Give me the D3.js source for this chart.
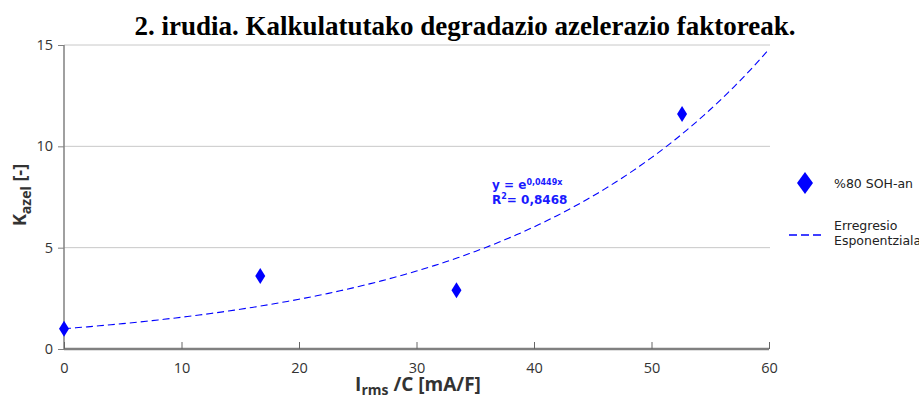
<!DOCTYPE html>
<html>
<head>
<meta charset="utf-8">
<script src="https://cdn.jsdelivr.net/npm/d3@7"></script>
<style>
  body { margin: 0; background: #fff; overflow: hidden; }
  svg { display: block; }
</style>
</head>
<body>
<svg id="chart" width="919" height="401"></svg>
<script>
// data
const xValues = [0, 16.7, 33.4, 52.6];
const yValues = [1.0, 3.6, 2.9, 11.6];
const xTicks = [0, 10, 20, 30, 40, 50, 60];
const yTicks = [0, 5, 10, 15];
const fitCoef = 0.0449;
const fitX = d3.range(0, 60.01, 0.5);

const margin = { top: 45, right: 150, bottom: 52, left: 64 },
  width = 919,
  height = 401,
  innerWidth = 769 - margin.left,
  innerHeight = 349 - margin.top;

const svg = d3.select("#chart");

svg.append("text")
  .attr("x", 465).attr("y", 35)
  .attr("text-anchor", "middle")
  .style("font-family", "'Liberation Serif', 'Times New Roman', serif")
  .style("font-weight", "bold")
  .style("font-size", "27px")
  .text("2. irudia. Kalkulatutako degradazio azelerazio faktoreak.");

const g = svg.append("g").attr("transform", `translate(${margin.left},${margin.top})`);

const x_Scale = d3.scaleLinear().domain([0, 60]).range([0, innerWidth]);
const y_Scale = d3.scaleLinear().domain([0, 15]).range([innerHeight, 0]);

// grid lines
g.selectAll(".grid").data(yTicks.filter(d => d > 0)).join("line")
  .attr("class", "grid")
  .attr("x1", 0).attr("x2", innerWidth + 1)
  .attr("y1", d => y_Scale(d)).attr("y2", d => y_Scale(d))
  .attr("stroke", "#c8c8c8").attr("stroke-width", 1);

// y axis
const yAxis = g.append("g")
  .call(d3.axisLeft(y_Scale).tickValues(yTicks).tickSize(6).tickPadding(5));
yAxis.select(".domain").attr("stroke", "#808080").attr("stroke-width", 1.5).attr("d", `M0,${innerHeight}V0`);
yAxis.selectAll(".tick line").attr("stroke", "#808080");
yAxis.selectAll(".tick text")
  .style("font-family", "'Open Sans', sans-serif").style("font-size", "14.5px").attr("fill", "#333");

// x axis
const xAxis = g.append("g")
  .attr("transform", `translate(0,${innerHeight})`)
  .call(d3.axisBottom(x_Scale).tickValues(xTicks).tickSize(-7).tickPadding(14));
xAxis.select(".domain").attr("stroke", "#808080").attr("stroke-width", 2.5).attr("d", `M0,0H${innerWidth}`);
xAxis.selectAll(".tick line").attr("stroke", "#666");
xAxis.selectAll(".tick text")
  .style("font-family", "'Open Sans', sans-serif").style("font-size", "14.5px").attr("fill", "#333");

// exponential fit
const line = d3.line()
  .x(d => x_Scale(d))
  .y(d => y_Scale(Math.exp(fitCoef * d)));
g.append("path")
  .datum(fitX)
  .attr("d", line)
  .attr("fill", "none")
  .attr("stroke", "#0000ff")
  .attr("stroke-width", 1.1)
  .attr("stroke-dasharray", "7,4");

// diamonds
const diamond = "M0,-8L5,0L0,8L-5,0Z";
g.selectAll(".pt").data(xValues).join("path")
  .attr("class", "pt")
  .attr("d", diamond)
  .attr("transform", (d, i) => `translate(${x_Scale(d)},${y_Scale(yValues[i])})`)
  .attr("fill", "#0000ff");

// equation
const eq = svg.append("text")
  .attr("x", 492).attr("y", 189)
  .style("font-family", "'DejaVu Sans', Verdana, sans-serif")
  .style("font-weight", "bold").style("font-size", "12px")
  .attr("fill", "#1a1aff");
eq.append("tspan").text("y = e");
eq.append("tspan").attr("dy", -4).style("font-size", "8px").text("0,0449x");
const r2 = svg.append("text")
  .attr("x", 492).attr("y", 204)
  .style("font-family", "'DejaVu Sans', Verdana, sans-serif")
  .style("font-weight", "bold").style("font-size", "12px")
  .attr("fill", "#1a1aff");
r2.append("tspan").text("R");
r2.append("tspan").attr("dy", -5).style("font-size", "8px").text("2");
r2.append("tspan").attr("dy", 5).text("= 0,8468");

// axis titles
const yl = svg.append("text")
  .attr("transform", "translate(26,195) rotate(-90)")
  .attr("text-anchor", "middle")
  .style("font-family", "'Open Sans', sans-serif")
  .style("font-weight", "bold").style("font-size", "18px")
  .attr("fill", "#333");
yl.append("tspan").text("K");
yl.append("tspan").attr("dy", 5).style("font-size", "14px").text("azel");
yl.append("tspan").attr("dy", -5).text(" [-]");

const xl = svg.append("text")
  .attr("x", 418).attr("y", 391)
  .attr("text-anchor", "middle")
  .style("font-family", "'Open Sans', sans-serif")
  .style("font-weight", "bold").style("font-size", "19px")
  .attr("fill", "#333");
xl.append("tspan").text("I");
xl.append("tspan").attr("dy", 4).style("font-size", "14px").text("rms");
xl.append("tspan").attr("dy", -4).text(" /C [mA/F]");

// legend
const legend = svg.append("g");
legend.append("path").attr("d", "M0,-11L8,0L0,11L-8,0Z")
  .attr("transform", "translate(805,183)").attr("fill", "#0000ff");
legend.append("text").attr("x", 834).attr("y", 188)
  .style("font-family", "'DejaVu Sans', Verdana, sans-serif").style("font-size", "12.5px")
  .attr("fill", "#222").text("%80 SOH-an");
legend.append("line").attr("x1", 789).attr("x2", 822).attr("y1", 235).attr("y2", 235)
  .attr("stroke", "#0000ff").attr("stroke-width", 1.5).attr("stroke-dasharray", "8,4");
legend.append("text").attr("x", 834).attr("y", 230)
  .style("font-family", "'DejaVu Sans', Verdana, sans-serif").style("font-size", "12.5px")
  .attr("fill", "#222").text("Erregresio");
legend.append("text").attr("x", 834).attr("y", 245)
  .style("font-family", "'DejaVu Sans', Verdana, sans-serif").style("font-size", "12.5px")
  .attr("fill", "#222").text("Esponentziala");
</script>
</body>
</html>
